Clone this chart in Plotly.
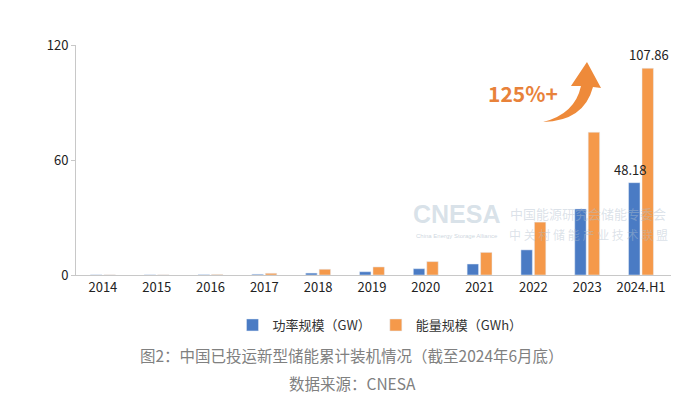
import plotly.graph_objects as go

categories = ["2014", "2015", "2016", "2017", "2018", "2019", "2020", "2021", "2022", "2023", "2024.H1"]
power_gw = [0.1, 0.1, 0.2, 0.4, 1.0, 1.7, 3.28, 5.73, 13.1, 34.5, 48.18]
energy_gwh = [0.1, 0.1, 0.3, 0.9, 3.0, 4.2, 7.0, 11.8, 27.6, 74.5, 107.86]
y_ticks = [0, 60, 120]

FONT = "Noto Sans CJK SC"
BLUE = "#4A7BC4"
ORANGE = "#F5994A"

W, H = 700, 401
L, R, T, B = 76, 29, 45, 126
pw, ph = W - L - R, H - T - B


def px(x, y):
    return (x - L) / pw, (H - B - y) / ph


fig = go.Figure()
fig.add_trace(go.Bar(x=categories, y=power_gw, name="功率规模（GW）", marker_color=BLUE))
fig.add_trace(go.Bar(x=categories, y=energy_gwh, name="能量规模（GWh）", marker_color=ORANGE))

# curved arrow
pts = [
    ("M", 543, 122),
    ("Q", 575, 114, 581, 86),
    ("L", 571, 86),
    ("L", 587, 62),
    ("L", 601, 88),
    ("L", 593, 87),
    ("Q", 584, 121, 543, 122),
]
path = ""
for p in pts:
    cmd = p[0]
    coords = p[1:]
    segs = []
    for i in range(0, len(coords), 2):
        xx, yy = px(coords[i], coords[i + 1])
        segs.append(f"{xx:.4f},{yy:.4f}")
    path += cmd + " ".join(segs) + " "
path += "Z"
fig.add_shape(type="path", path=path, xref="paper", yref="paper",
              fillcolor="#EE8A3A", line=dict(width=0))


def anno(x, y, text, size, color, family=FONT):
    ax, ay = px(x, y)
    return dict(x=ax, y=ay, xref="paper", yref="paper", text=text, showarrow=False,
                xanchor="center", yanchor="middle",
                font=dict(size=size, color=color, family=family))


annos = [
    anno(523, 93, "<b>125%+</b>", 21, "#E8823A"),
    anno(457, 214, "<b>CNESA</b>", 25, "rgba(170,190,205,0.45)", "Liberation Sans"),
    anno(457, 236, "China Energy Storage Alliance", 6, "rgba(170,185,200,0.6)", "Liberation Sans"),
    anno(588, 213, "中国能源研究会储能专委会", 13, "rgba(175,190,205,0.45)"),
    anno(588, 234, "中 关 村 储 能 产 业 技 术 联 盟", 12, "rgba(175,190,205,0.45)"),
    anno(352, 355, "图2：中国已投运新型储能累计装机情况（截至2024年6月底）", 15.5, "#808080"),
    anno(352, 383, "数据来源：CNESA", 15.5, "#808080"),
]
# data labels for the last category
annos.append(dict(x=categories[-1], y=power_gw[-1], xref="x", yref="y", text=f"{power_gw[-1]:.2f}",
                  showarrow=False, xanchor="center", yanchor="bottom", xshift=-11, yshift=2,
                  font=dict(size=13, color="#222", family=FONT)))
annos.append(dict(x=categories[-1], y=energy_gwh[-1], xref="x", yref="y", text=f"{energy_gwh[-1]:.2f}",
                  showarrow=False, xanchor="center", yanchor="bottom", xshift=8, yshift=2,
                  font=dict(size=13, color="#222", family=FONT)))

lx, ly = px(380, 325)
fig.update_layout(
    width=W, height=H,
    margin=dict(l=L, r=R, t=T, b=B),
    paper_bgcolor="white", plot_bgcolor="white",
    barmode="group", bargap=0.5, bargroupgap=0.15,
    font=dict(family=FONT, size=13, color="#222"),
    showlegend=True,
    legend=dict(orientation="h", x=lx, y=ly, xanchor="center", yanchor="middle",
                font=dict(size=13, color="#333", family=FONT),
                traceorder="normal"),
    annotations=annos,
    xaxis=dict(type="category", showline=True, linecolor="#C8C8C8", linewidth=1,
               ticks="", showgrid=False, tickfont=dict(size=13, color="#222")),
    yaxis=dict(range=[0, 120], tickvals=y_ticks, showline=True, linecolor="#C8C8C8",
               linewidth=1, ticks="outside", ticklen=4, tickcolor="#C8C8C8",
               showgrid=False, zeroline=False, tickfont=dict(size=13, color="#222")),
)

fig.write_html("out.html", config={"displayModeBar": False},
               post_script="document.body.style.margin='0';")
